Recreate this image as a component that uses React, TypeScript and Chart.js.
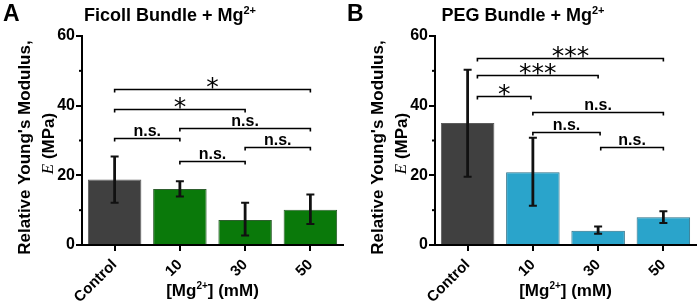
import React, { useEffect, useRef } from 'react';
import { Chart, registerables } from 'chart.js';

Chart.register(...registerables);

// ---------- data ----------
const categories = ['Control', '10', '30', '50'];

const ficollMean = [18.8, 16.1, 7.2, 10.1];
const ficollHigh = [25.4, 18.3, 12.1, 14.5];
const ficollLow = [12.1, 13.9, 2.7, 6.0];

const pegMean = [35.0, 20.9, 4.1, 8.0];
const pegHigh = [50.3, 30.8, 5.3, 9.7];
const pegLow = [19.6, 11.3, 3.2, 6.3];

const yMin = 0;
const yMax = 60;
const yStep = 10;
const yLabelEvery = 20;

// significance brackets (category positions, height in MPa, label)
const ficollBracketFrom = [0, 0, 1, 0, 2, 1];
const ficollBracketTo = [3, 2, 3, 1, 3, 2];
const ficollBracketY = [44.7, 39.0, 33.7, 30.8, 28.0, 24.2];
const ficollBracketLabel = ['*', '*', 'n.s.', 'n.s.', 'n.s.', 'n.s.'];

const pegBracketFrom = [0.15, 0.15, 0.15, 1, 1, 2.04];
const pegBracketTo = [3, 2, 0.97, 3, 2.03, 3];
const pegBracketY = [53.8, 48.7, 42.8, 38.3, 32.3, 28.0];
const pegBracketLabel = ['***', '***', '*', 'n.s.', 'n.s.', 'n.s.'];

const controlColor = '#404040';
const controlBorder = '#5c5c5c';
const ficollColor = '#0a790a';
const ficollBorder = '#2f5f2f';
const pegColor = '#2aa4cb';
const pegBorder = '#2a6f86';

const FONT = "'Liberation Sans', Arial, sans-serif";

type PanelDef = {
  letter: string;
  title: string;
  left: number;
  width: number;
  axisLeft: number;
  rightPad: number;
  letterX: number;
  mean: number[];
  high: number[];
  low: number[];
  color: string;
  border: string;
  bFrom: number[];
  bTo: number[];
  bY: number[];
  bLabel: string[];
};

function drawSupText(
  ctx: CanvasRenderingContext2D,
  parts: { t: string; sup?: boolean }[],
  cx: number,
  y: number,
  size: number,
  supSize: number,
  supRise: number
) {
  const widths = parts.map((p) => {
    ctx.font = `bold ${p.sup ? supSize : size}px ${FONT}`;
    return ctx.measureText(p.t).width;
  });
  const total = widths.reduce((a, b) => a + b, 0);
  let x = cx - total / 2;
  ctx.textAlign = 'left';
  ctx.textBaseline = 'alphabetic';
  parts.forEach((p, i) => {
    ctx.font = `bold ${p.sup ? supSize : size}px ${FONT}`;
    ctx.fillText(p.t, x, p.sup ? y - supRise : y);
    x += widths[i];
  });
}

function Panel({ def }: { def: PanelDef }) {
  const ref = useRef<HTMLCanvasElement>(null);

  useEffect(() => {
    const canvas = ref.current;
    if (!canvas) return;

    const extras = {
      id: 'extras',
      afterDatasetsDraw(chart: any) {
        const ctx: CanvasRenderingContext2D = chart.ctx;
        const xs = chart.scales.x;
        const ys = chart.scales.y;
        ctx.save();
        ctx.strokeStyle = '#111';
        for (let i = 0; i < categories.length; i++) {
          const x = xs.getPixelForValue(i);
          const y1 = ys.getPixelForValue(def.high[i]);
          const y2 = ys.getPixelForValue(def.low[i]);
          ctx.lineWidth = 2.8;
          ctx.beginPath();
          ctx.moveTo(x, y1);
          ctx.lineTo(x, y2);
          ctx.stroke();
          ctx.lineWidth = 2;
          ctx.beginPath();
          ctx.moveTo(x - 4, y1);
          ctx.lineTo(x + 4, y1);
          ctx.moveTo(x - 4, y2);
          ctx.lineTo(x + 4, y2);
          ctx.stroke();
        }
        ctx.restore();
      },
      afterDraw(chart: any) {
        const ctx: CanvasRenderingContext2D = chart.ctx;
        const xs = chart.scales.x;
        const ys = chart.scales.y;
        const area = chart.chartArea;
        ctx.save();
        ctx.fillStyle = '#000';
        ctx.strokeStyle = '#000';

        // minor y ticks
        ctx.lineWidth = 2;
        for (let v = yMin; v <= yMax; v += yStep) {
          if (v % yLabelEvery === 0) continue;
          const y = ys.getPixelForValue(v);
          ctx.beginPath();
          ctx.moveTo(area.left - 3, y);
          ctx.lineTo(area.left, y);
          ctx.stroke();
        }

        // significance brackets
        for (let k = 0; k < def.bY.length; k++) {
          const xa = xs.getPixelForValue(def.bFrom[k]);
          const xb = xs.getPixelForValue(def.bTo[k]);
          const y = Math.round(ys.getPixelForValue(def.bY[k])) + 0.5;
          ctx.lineWidth = 1.6;
          ctx.beginPath();
          ctx.moveTo(xa, y + 3);
          ctx.lineTo(xa, y);
          ctx.lineTo(xb, y);
          ctx.lineTo(xb, y + 3);
          ctx.stroke();
          const label = def.bLabel[k];
          const cx = (xa + xb) / 2;
          ctx.textAlign = 'center';
          ctx.textBaseline = 'alphabetic';
          if (label.startsWith('*')) {
            ctx.font = `25px 'DejaVu Sans', sans-serif`;
            const m = ctx.measureText(label);
            const base = y - 1 - m.actualBoundingBoxDescent;
            ctx.fillText(label, cx, base);
          } else {
            ctx.font = `bold 16px ${FONT}`;
            ctx.fillText(label, cx, y - 3);
          }
        }

        // panel letter
        ctx.textAlign = 'left';
        ctx.textBaseline = 'alphabetic';
        ctx.font = `bold 23px ${FONT}`;
        ctx.fillText(def.letter, def.letterX, 21);

        // panel title
        drawSupText(
          ctx,
          [{ t: def.title + ' + Mg' }, { t: '2+', sup: true }],
          area.left + 88,
          21,
          18,
          11,
          7
        );

        // x axis title
        drawSupText(
          ctx,
          [{ t: '[Mg' }, { t: '2+', sup: true }, { t: '] (mM)' }],
          (area.left + area.right) / 2,
          296,
          17,
          10,
          7
        );

        // y axis title (two lines, rotated)
        const midY = (area.top + area.bottom) / 2;
        ctx.save();
        ctx.translate(area.left - 57, midY + 7);
        ctx.rotate(-Math.PI / 2);
        ctx.textAlign = 'center';
        ctx.textBaseline = 'middle';
        ctx.font = `bold 17px ${FONT}`;
        ctx.fillText("Relative Young's Modulus,", 0, 0);
        ctx.restore();

        ctx.save();
        ctx.translate(area.left - 33, midY + 3);
        ctx.rotate(-Math.PI / 2);
        ctx.textBaseline = 'middle';
        ctx.textAlign = 'left';
        ctx.font = `italic 17px 'Liberation Serif', serif`;
        const eW = ctx.measureText('E').width;
        ctx.font = `bold 17px ${FONT}`;
        const rest = ' (MPa)';
        const rW = ctx.measureText(rest).width;
        const start = -(eW + rW) / 2;
        ctx.font = `italic 17px 'Liberation Serif', serif`;
        ctx.fillText('E', start, 0);
        ctx.font = `bold 17px ${FONT}`;
        ctx.fillText(rest, start + eW, 0);
        ctx.restore();

        ctx.restore();
      },
    };

    const barColors = categories.map((_, i) => (i === 0 ? controlColor : def.color));
    const barBorders = categories.map((_, i) => (i === 0 ? controlBorder : def.border));

    const chart = new Chart(canvas, {
      type: 'bar',
      data: {
        labels: categories,
        datasets: [
          {
            data: def.mean,
            backgroundColor: barColors,
            borderColor: barBorders,
            borderWidth: 1,
            barPercentage: 0.82,
            categoryPercentage: 1,
          },
        ],
      },
      options: {
        animation: false,
        responsive: false,
        maintainAspectRatio: false,
        layout: { padding: { top: 36, right: def.rightPad, left: 0, bottom: 0 } },
        plugins: {
          legend: { display: false },
          tooltip: { enabled: false },
          title: { display: false },
        },
        scales: {
          x: {
            type: 'category',
            grid: {
              display: true,
              offset: false,
              drawOnChartArea: false,
              drawTicks: true,
              tickLength: 6,
              color: '#000',
              lineWidth: 2,
            },
            border: { display: true, color: '#000', width: 2 },
            ticks: {
              color: '#000',
              font: { family: FONT, weight: 'bold', size: 15 },
              maxRotation: 45,
              minRotation: 45,
              padding: 5,
              autoSkip: false,
            },
            afterFit: (s: any) => {
              s.height = 63;
              s.paddingLeft = 0;
              s.paddingRight = 0;
            },
          },
          y: {
            min: yMin,
            max: yMax,
            grid: {
              display: true,
              drawOnChartArea: false,
              drawTicks: true,
              tickLength: 6,
              color: (c: any) =>
                c.tick && c.tick.value % yLabelEvery === 0 ? '#000' : 'rgba(0,0,0,0)',
              lineWidth: 2,
            },
            border: { display: true, color: '#000', width: 2 },
            ticks: {
              stepSize: yStep,
              color: '#000',
              font: { family: FONT, weight: 'bold', size: 16 },
              padding: 1,
              callback: (v: any) => (Number(v) % yLabelEvery === 0 ? String(v) : ''),
            },
            afterFit: (s: any) => {
              s.width = def.axisLeft;
              s.paddingTop = 0;
              s.paddingBottom = 0;
            },
          },
        },
      },
      plugins: [extras],
    } as any);

    return () => chart.destroy();
  }, [def]);

  return (
    <canvas
      ref={ref}
      width={def.width}
      height={308}
      style={{ position: 'absolute', left: def.left, top: 0, width: def.width, height: 308 }}
    />
  );
}

const panelA: PanelDef = {
  letter: 'A',
  title: 'Ficoll Bundle',
  left: 0,
  width: 345,
  axisLeft: 82,
  rightPad: 2,
  letterX: 3,
  mean: ficollMean,
  high: ficollHigh,
  low: ficollLow,
  color: ficollColor,
  border: ficollBorder,
  bFrom: ficollBracketFrom,
  bTo: ficollBracketTo,
  bY: ficollBracketY,
  bLabel: ficollBracketLabel,
};

const panelB: PanelDef = {
  letter: 'B',
  title: 'PEG Bundle',
  left: 345,
  width: 354,
  axisLeft: 90,
  rightPad: 3,
  letterX: 2,
  mean: pegMean,
  high: pegHigh,
  low: pegLow,
  color: pegColor,
  border: pegBorder,
  bFrom: pegBracketFrom,
  bTo: pegBracketTo,
  bY: pegBracketY,
  bLabel: pegBracketLabel,
};

export default function App() {
  useEffect(() => {
    document.body.style.margin = '0';
  }, []);
  return (
    <div
      style={{
        position: 'fixed',
        left: 0,
        top: 0,
        width: 699,
        height: 308,
        background: '#fff',
        overflow: 'hidden',
      }}
    >
      <Panel def={panelA} />
      <Panel def={panelB} />
    </div>
  );
}
